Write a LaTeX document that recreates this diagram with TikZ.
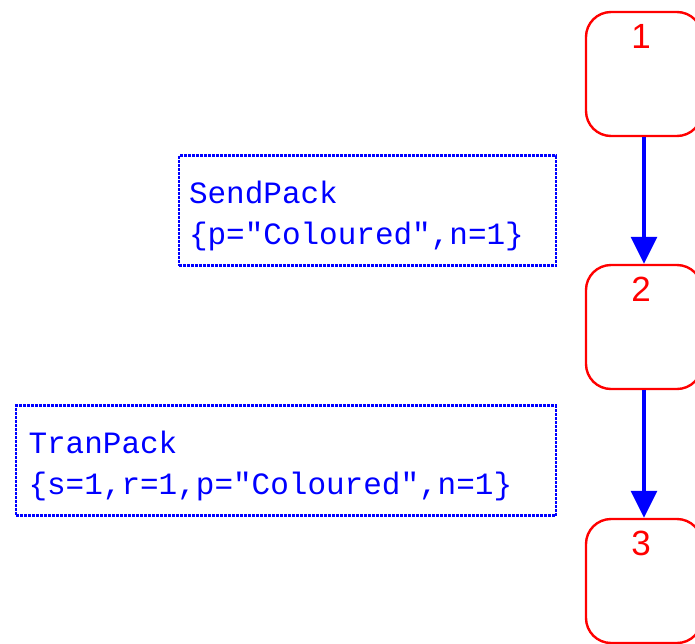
\documentclass[tikz,border=0pt]{standalone}
\usepackage{fontspec}
\setmainfont{Liberation Sans}
\setmonofont{Liberation Mono}
\usetikzlibrary{arrows.meta}

\begin{document}
\begin{tikzpicture}[x=1pt, y=-1pt,
  state/.style={draw=red, line width=2.4pt, rounded corners=25pt, minimum width=116pt, minimum height=124pt},
  statenum/.style={anchor=north, inner sep=0pt, yshift=-13pt, xshift=-3pt, text=red, font=\fontsize{35}{35}\selectfont},
  note/.style={draw=blue, line width=2.2pt, dash pattern=on 3pt off 1pt, text=blue, align=left,
    inner xsep=10pt, inner ysep=0pt, minimum height=110pt,
    font=\fontsize{31}{41}\selectfont\ttfamily},
  arr/.style={draw=blue, line width=3.2pt, -{Triangle[width=26pt,length=27pt]}}]
  \useasboundingbox (0,0) rectangle (695,643);

  \node[state, label={[statenum]north:1}] (s1) at (644,74)  {};
  \node[state, label={[statenum]north:2}] (s2) at (644,327) {};
  \node[state, label={[statenum]north:3}] (s3) at (644,581) {};

  \draw[arr] (s1) -- (s2);
  \draw[arr] (s2) -- (s3);

  % taller first line pushes the text down a little
  \node[note, text width=357pt] (sendpack) at (367.5,210.5)
    {\rule{0pt}{34pt}SendPack\\\{p="Coloured",n=1\}};
  \node[note, text width=515pt, inner xsep=12.5pt] (tranpack) at (286,460.5)
    {\rule{0pt}{34pt}TranPack\\\{s=1,r=1,p="Coloured",n=1\}};
\end{tikzpicture}
\end{document}
